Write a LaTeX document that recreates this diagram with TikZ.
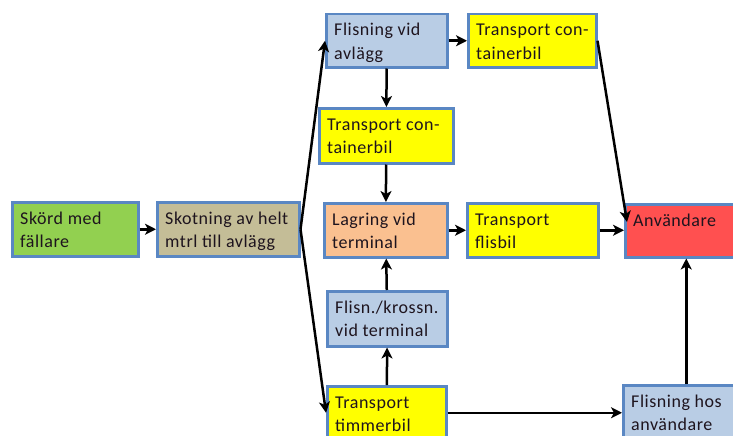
\documentclass[tikz,border=0pt]{standalone}
\usepackage{fontspec}
\setmainfont{Carlito}[LetterSpace=3]
\usetikzlibrary{arrows.meta}
\definecolor{bordc}{RGB}{90,135,195}
\definecolor{cgreen}{RGB}{146,208,80}
\definecolor{ctan}{RGB}{196,189,151}
\definecolor{cblue}{RGB}{185,205,229}
\definecolor{cyel}{RGB}{255,255,0}
\definecolor{cpeach}{RGB}{250,192,144}
\definecolor{cred}{RGB}{255,80,80}
\definecolor{ctext}{RGB}{30,20,30}
\tikzset{
  boxn/.style={draw=bordc, line width=2.5pt, anchor=north west, inner sep=0pt},
  txt/.style={anchor=base west, inner sep=0pt, text=ctext, font=\fontsize{18}{23.5}\selectfont},
  arr/.style={draw=black, line width=2.5pt, -{Stealth[length=11pt,width=11pt,inset=3pt]}}
}
\newcommand{\boxat}[7]{% name, x1, y1, x2, y2, fill, text
  \node[boxn, fill=#6, minimum width={(#4-#2)*1pt}, minimum height={(#5-#3)*1pt}] (#1) at (#2,#3) {};
  \node[txt] (#1t) at (#2+9,#3+23) {\begin{tabular}[t]{@{}l@{}}#7\end{tabular}};}
\begin{document}
\begin{tikzpicture}[x=1pt,y=-1pt]
\useasboundingbox (0,0) rectangle (733,436);
\begin{scope}
\clip (0,0) rectangle (733,436);
\boxat{skord}{11}{201}{137}{255}{cgreen}{Skörd med\\fällare}
\boxat{skot}{156}{201}{298}{255}{ctan}{Skotning av helt\\mtrl till avlägg}
\boxat{flis}{325}{13}{446}{66}{cblue}{Flisning vid\\avlägg}
\boxat{tcone}{467}{13}{595}{66}{cyel}{Transport con-\\tainerbil}
\boxat{tctwo}{318}{107}{452}{162}{cyel}{Transport con-\\tainerbil}
\boxat{lag}{323}{202}{446}{256}{cpeach}{Lagring vid\\terminal}
\boxat{fbil}{466}{202}{597}{256}{cyel}{Transport\\flisbil}
\boxat{anv}{624}{203}{746}{256}{cred}{Användare}
\boxat{kross}{326}{290}{446}{345}{cblue}{Flisn./krossn.\\vid terminal}
\boxat{timmer}{326}{385}{445}{438}{cyel}{Transport\\timmerbil}
\boxat{fha}{622}{384}{748}{440}{cblue}{Flisning hos\\användare}
\coordinate (anvin) at (627,222);
\draw[arr] (skord) -- (skot);
\draw[arr] (skot.east) -- (flis.west);
\draw[arr] (skot.east) -- (timmer.west);
\draw[arr] (flis) -- (tcone);
\draw[arr] (flis) -- (tctwo);
\draw[arr] (tctwo) -- (lag);
\draw[arr] (lag) -- (fbil);
\draw[arr] (fbil) -- (fbil.east -| anv.west);
\draw[arr] (tcone.east) -- (anvin);
\draw[arr] (kross) -- (lag);
\draw[arr] (timmer) -- (kross);
\draw[arr] (timmer.east) -- (timmer.east -| fha.west);
\draw[arr] (fha) -- (anv);
\end{scope}
\end{tikzpicture}
\end{document}
